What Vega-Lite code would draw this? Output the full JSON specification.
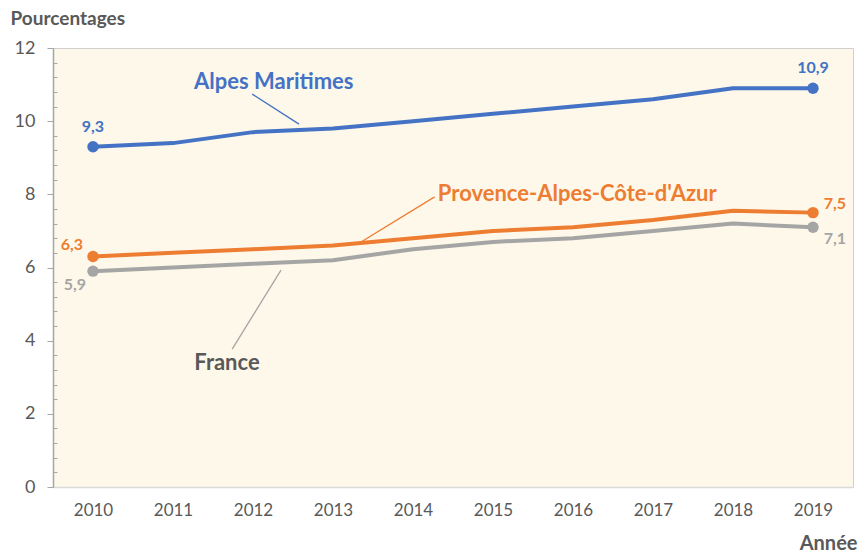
{
  "$schema": "https://vega.github.io/schema/vega-lite/v6.json",
  "autosize": "none",
  "width": 800,
  "height": 439,
  "padding": {"left": 53, "top": 48, "right": 7, "bottom": 67},
  "background": "white",
  "config": {
    "font": "Lato",
    "view": {"fill": "#FEF8EA", "stroke": "#D0CECE", "strokeWidth": 1},
    "locale": {"number": {"decimal": ",", "thousands": " ", "grouping": [3], "currency": ["", " €"]}}
  },
  "datasets": {
    "series": [
      {"series": "Alpes Maritimes", "year": 2010, "value": 9.3},
      {"series": "Alpes Maritimes", "year": 2011, "value": 9.4},
      {"series": "Alpes Maritimes", "year": 2012, "value": 9.7},
      {"series": "Alpes Maritimes", "year": 2013, "value": 9.8},
      {"series": "Alpes Maritimes", "year": 2014, "value": 10.0},
      {"series": "Alpes Maritimes", "year": 2015, "value": 10.2},
      {"series": "Alpes Maritimes", "year": 2016, "value": 10.4},
      {"series": "Alpes Maritimes", "year": 2017, "value": 10.6},
      {"series": "Alpes Maritimes", "year": 2018, "value": 10.9},
      {"series": "Alpes Maritimes", "year": 2019, "value": 10.9},
      {"series": "Provence-Alpes-Côte-d'Azur", "year": 2010, "value": 6.3},
      {"series": "Provence-Alpes-Côte-d'Azur", "year": 2011, "value": 6.4},
      {"series": "Provence-Alpes-Côte-d'Azur", "year": 2012, "value": 6.5},
      {"series": "Provence-Alpes-Côte-d'Azur", "year": 2013, "value": 6.6},
      {"series": "Provence-Alpes-Côte-d'Azur", "year": 2014, "value": 6.8},
      {"series": "Provence-Alpes-Côte-d'Azur", "year": 2015, "value": 7.0},
      {"series": "Provence-Alpes-Côte-d'Azur", "year": 2016, "value": 7.1},
      {"series": "Provence-Alpes-Côte-d'Azur", "year": 2017, "value": 7.3},
      {"series": "Provence-Alpes-Côte-d'Azur", "year": 2018, "value": 7.55},
      {"series": "Provence-Alpes-Côte-d'Azur", "year": 2019, "value": 7.5},
      {"series": "France", "year": 2010, "value": 5.9},
      {"series": "France", "year": 2011, "value": 6.0},
      {"series": "France", "year": 2012, "value": 6.1},
      {"series": "France", "year": 2013, "value": 6.2},
      {"series": "France", "year": 2014, "value": 6.5},
      {"series": "France", "year": 2015, "value": 6.7},
      {"series": "France", "year": 2016, "value": 6.8},
      {"series": "France", "year": 2017, "value": 7.0},
      {"series": "France", "year": 2018, "value": 7.2},
      {"series": "France", "year": 2019, "value": 7.1}
    ],
    "notes": [
      {"series": "Alpes Maritimes", "text": "Alpes Maritimes", "tx": 2012.26, "ty": 11.07, "lx": 2011.99, "ly": 10.74, "lx2": 2012.575, "ly2": 9.92},
      {"series": "Provence-Alpes-Côte-d'Azur", "text": "Provence-Alpes-Côte-d'Azur", "tx": 2014.31, "ty": 8.01, "lx": 2013.33, "ly": 6.67, "lx2": 2014.27, "ly2": 7.93},
      {"series": "France", "text": "France", "tx": 2011.675, "ty": 3.39, "lx": 2012.35, "ly": 5.93, "lx2": 2011.74, "ly2": 3.77}
    ]
  },
  "encoding": {
    "x": {
      "field": "year", "type": "quantitative",
      "scale": {"domain": [2009.5, 2019.5], "nice": false, "zero": false},
      "axis": {
        "title": "Année",
        "values": [2010, 2011, 2012, 2013, 2014, 2015, 2016, 2017, 2018, 2019],
        "format": "d",
        "grid": false,
        "ticks": false,
        "domainColor": "#D9D9D9",
        "domainWidth": 1.5,
        "labelFontSize": 17,
        "labelColor": "#595959",
        "labelPadding": 15,
        "titleFontSize": 20,
        "titleFontWeight": "bold",
        "titleColor": "#595959",
        "titleAnchor": "end",
        "titleAlign": "right",
        "titleBaseline": "middle",
        "titleX": 804,
        "titleY": 56
      }
    },
    "y": {
      "field": "value", "type": "quantitative",
      "scale": {"domain": [0, 12], "nice": false},
      "axis": {
        "title": "Pourcentages",
        "values": [0, 0.4, 0.8, 1.2, 1.6, 2, 2.4, 2.8, 3.2, 3.6, 4, 4.4, 4.8, 5.2, 5.6, 6, 6.4, 6.8, 7.2, 7.6, 8, 8.4, 8.8, 9.2, 9.6, 10, 10.4, 10.8, 11.2, 11.6, 12],
        "labelExpr": "abs(datum.value - round(datum.value / 2) * 2) < 0.01 ? format(datum.value, 'd') : ''",
        "grid": false,
        "domainColor": "#A6A6A6",
        "domainWidth": 1.5,
        "tickColor": "#A6A6A6",
        "tickSize": {"condition": {"test": "abs(datum.value - round(datum.value / 2) * 2) < 0.01", "value": 6}, "value": -4},
        "labelFontSize": 18,
        "labelColor": "#595959",
        "labelPadding": 12,
        "titleAngle": 0,
        "titleFontSize": 19,
        "titleFontWeight": "bold",
        "titleColor": "#595959",
        "titleAlign": "left",
        "titleBaseline": "middle",
        "titleX": -43,
        "titleY": -30
      }
    }
  },
  "layer": [
    {
      "data": {"name": "notes"},
      "mark": {"type": "rule", "strokeWidth": 1.3},
      "encoding": {
        "x": {"field": "lx", "type": "quantitative"},
        "y": {"field": "ly", "type": "quantitative"},
        "x2": {"field": "lx2"},
        "y2": {"field": "ly2"},
        "color": {"field": "series", "type": "nominal", "legend": null,
          "scale": {"domain": ["Alpes Maritimes", "Provence-Alpes-Côte-d'Azur", "France"], "range": ["#4472C4", "#ED7D31", "#A5A5A5"]}}
      }
    },
    {
      "data": {"name": "notes"},
      "transform": [{"filter": "datum.series !== \"Provence-Alpes-Côte-d'Azur\""}],
      "mark": {"type": "text", "fontSize": 22, "fontWeight": "bold", "baseline": "middle", "align": "center"},
      "encoding": {
        "x": {"field": "tx", "type": "quantitative"},
        "y": {"field": "ty", "type": "quantitative"},
        "text": {"field": "text"},
        "color": {"condition": {"test": "datum.series === 'France'", "value": "#595959"}, "field": "series", "type": "nominal", "legend": null}
      }
    },
    {
      "data": {"name": "notes"},
      "transform": [{"filter": "datum.series === \"Provence-Alpes-Côte-d'Azur\""}],
      "mark": {"type": "text", "fontSize": 22, "fontWeight": "bold", "baseline": "middle", "align": "left"},
      "encoding": {
        "x": {"field": "tx", "type": "quantitative"},
        "y": {"field": "ty", "type": "quantitative"},
        "text": {"field": "text"},
        "color": {"field": "series", "type": "nominal", "legend": null}
      }
    },
    {
      "data": {"name": "series"},
      "mark": {"type": "line", "strokeWidth": 4, "strokeCap": "round", "strokeJoin": "round"},
      "encoding": {
        "color": {"field": "series", "type": "nominal", "legend": null}
      }
    },
    {
      "data": {"name": "series"},
      "transform": [{"filter": "datum.year == 2010 || datum.year == 2019"}],
      "mark": {"type": "point", "filled": true, "size": 130, "opacity": 1},
      "encoding": {
        "color": {"field": "series", "type": "nominal", "legend": null}
      }
    },
    {
      "data": {"name": "series"},
      "transform": [{"filter": "datum.series === 'Alpes Maritimes' && (datum.year == 2010 || datum.year == 2019)"}],
      "mark": {"type": "text", "fontSize": 16, "fontWeight": "bold", "dy": -20, "baseline": "middle"},
      "encoding": {
        "text": {"field": "value", "type": "quantitative", "format": ".1f"},
        "color": {"field": "series", "type": "nominal", "legend": null}
      }
    },
    {
      "data": {"name": "series"},
      "transform": [{"filter": "datum.series === \"Provence-Alpes-Côte-d'Azur\" && datum.year == 2010"}],
      "mark": {"type": "text", "fontSize": 16, "fontWeight": "bold", "baseline": "middle", "align": "center", "dx": -21, "dy": -12},
      "encoding": {
        "text": {"field": "value", "type": "quantitative", "format": ".1f"},
        "color": {"field": "series", "type": "nominal", "legend": null}
      }
    },
    {
      "data": {"name": "series"},
      "transform": [{"filter": "datum.series === 'France' && datum.year == 2010"}],
      "mark": {"type": "text", "fontSize": 16, "fontWeight": "bold", "baseline": "middle", "align": "center", "dx": -18, "dy": 14},
      "encoding": {
        "text": {"field": "value", "type": "quantitative", "format": ".1f"},
        "color": {"field": "series", "type": "nominal", "legend": null}
      }
    },
    {
      "data": {"name": "series"},
      "transform": [{"filter": "datum.series === \"Provence-Alpes-Côte-d'Azur\" && datum.year == 2019"}],
      "mark": {"type": "text", "fontSize": 16, "fontWeight": "bold", "baseline": "middle", "align": "center", "dx": 22, "dy": -9},
      "encoding": {
        "text": {"field": "value", "type": "quantitative", "format": ".1f"},
        "color": {"field": "series", "type": "nominal", "legend": null}
      }
    },
    {
      "data": {"name": "series"},
      "transform": [{"filter": "datum.series === 'France' && datum.year == 2019"}],
      "mark": {"type": "text", "fontSize": 16, "fontWeight": "bold", "baseline": "middle", "align": "center", "dx": 22, "dy": 12},
      "encoding": {
        "text": {"field": "value", "type": "quantitative", "format": ".1f"},
        "color": {"field": "series", "type": "nominal", "legend": null}
      }
    }
  ]
}
